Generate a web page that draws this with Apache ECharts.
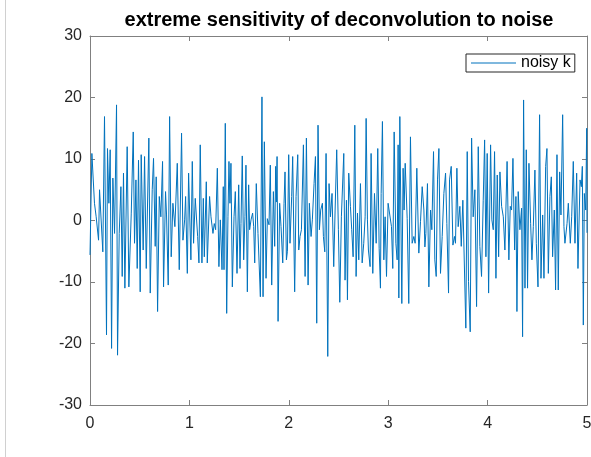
<!DOCTYPE html>
<html>
<head>
<meta charset="utf-8">
<script src="https://cdn.jsdelivr.net/npm/echarts@6/dist/echarts.min.js"></script>
<style>
  html, body { margin: 0; padding: 0; background: #fff; }
  #chart { width: 591px; height: 457px; }
</style>
</head>
<body>
<div id="chart"></div>
<script>
// time axis (s) and noisy kernel values
const times = [
  0.000, 0.019, 0.045, 0.062, 0.086, 0.096, 0.129, 0.146, 0.166, 0.176,
  0.190, 0.203, 0.217, 0.230, 0.247, 0.267, 0.277, 0.294, 0.311, 0.324,
  0.337, 0.351, 0.374, 0.391, 0.415, 0.435, 0.448, 0.462, 0.475, 0.488,
  0.505, 0.515, 0.535, 0.549, 0.566, 0.592, 0.606, 0.626, 0.639, 0.656,
  0.666, 0.680, 0.697, 0.713, 0.730, 0.740, 0.760, 0.770, 0.787, 0.801,
  0.817, 0.834, 0.854, 0.878, 0.898, 0.921, 0.935, 0.952, 0.962, 0.979,
  0.992, 1.015, 1.029, 1.042, 1.059, 1.083, 1.096, 1.109, 1.126, 1.140,
  1.150, 1.170, 1.180, 1.203, 1.217, 1.237, 1.250, 1.264, 1.281, 1.297,
  1.311, 1.328, 1.341, 1.348, 1.361, 1.375, 1.388, 1.398, 1.408, 1.418,
  1.432, 1.449, 1.462, 1.479, 1.496, 1.509, 1.519, 1.532, 1.546, 1.559,
  1.569, 1.583, 1.596, 1.606, 1.620, 1.636, 1.647, 1.657, 1.673, 1.690,
  1.714, 1.730, 1.741, 1.754, 1.771, 1.784, 1.801, 1.814, 1.828, 1.845,
  1.858, 1.868, 1.875, 1.882, 1.892, 1.908, 1.922, 1.939, 1.952, 1.962,
  1.976, 1.986, 1.999, 2.012, 2.029, 2.039, 2.059, 2.073, 2.090, 2.100,
  2.113, 2.127, 2.147, 2.164, 2.177, 2.194, 2.207, 2.224, 2.237, 2.254,
  2.268, 2.281, 2.294, 2.308, 2.321, 2.338, 2.348, 2.362, 2.375, 2.392,
  2.405, 2.419, 2.435, 2.452, 2.466, 2.482, 2.499, 2.513, 2.529, 2.553,
  2.566, 2.580, 2.590, 2.603, 2.620, 2.633, 2.647, 2.664, 2.677, 2.691,
  2.704, 2.721, 2.738, 2.754, 2.768, 2.778, 2.791, 2.801, 2.818, 2.828,
  2.845, 2.862, 2.879, 2.895, 2.909, 2.922, 2.929, 2.942, 2.956, 2.969,
  2.983, 2.999, 3.016, 3.033, 3.046, 3.060, 3.077, 3.090, 3.100, 3.107,
  3.117, 3.137, 3.150, 3.160, 3.171, 3.191, 3.207, 3.224, 3.241, 3.258,
  3.271, 3.288, 3.308, 3.325, 3.342, 3.359, 3.369, 3.379, 3.395, 3.409,
  3.426, 3.439, 3.456, 3.469, 3.483, 3.496, 3.510, 3.526, 3.543, 3.560,
  3.577, 3.590, 3.607, 3.617, 3.634, 3.651, 3.667, 3.677, 3.691, 3.704,
  3.721, 3.735, 3.751, 3.765, 3.781, 3.795, 3.808, 3.825, 3.839, 3.855,
  3.872, 3.889, 3.906, 3.922, 3.939, 3.956, 3.970, 3.983, 3.996, 4.010,
  4.030, 4.043, 4.057, 4.070, 4.084, 4.097, 4.111, 4.124, 4.141, 4.158,
  4.174, 4.196, 4.214, 4.228, 4.241, 4.255, 4.272, 4.285, 4.295, 4.308,
  4.325, 4.342, 4.352, 4.362, 4.376, 4.389, 4.402, 4.416, 4.433, 4.446,
  4.460, 4.476, 4.490, 4.507, 4.523, 4.537, 4.554, 4.567, 4.584, 4.597,
  4.611, 4.627, 4.641, 4.654, 4.671, 4.684, 4.698, 4.711, 4.725, 4.738,
  4.755, 4.768, 4.778, 4.799, 4.812, 4.832, 4.846, 4.862, 4.879, 4.896,
  4.909, 4.930, 4.943, 4.953, 4.963, 4.973, 4.987, 4.997, 5.000
];
const noisyK = [
  -5.6, 10.9, 2.8, 0.6, -3.2, 5.0, -5.1, 16.9, -18.6, 11.7,
  2.8, 11.5, -20.8, 6.9, -2.1, 18.8, -21.9, -2.1, 5.5, -9.1,
  7.7, -11.0, 12.0, -10.8, 1.2, 14.4, -3.7, 6.6, -7.8, 9.8,
  -11.6, 10.7, -4.8, 10.4, -7.8, 13.4, -11.8, 5.0, 10.1, -4.2,
  7.1, -14.8, 3.9, 0.6, 9.6, -10.8, 4.7, 0.9, -10.5, 16.9,
  -5.9, 2.8, -1.0, 9.3, -8.0, 14.2, -3.2, 0.1, 3.9, -8.6,
  7.7, -6.4, 9.6, -3.7, 3.6, -2.6, -6.9, 12.3, -6.9, 3.6,
  -5.9, 6.3, -6.9, 3.9, 0.6, -2.1, -0.5, -1.5, 8.5, -7.5,
  0.1, -8.0, 5.5, -8.0, 15.8, -15.1, 0.6, 9.6, 2.8, 9.3,
  -10.8, 0.6, 4.7, -8.6, 5.8, -7.8, -0.5, 10.5, -6.4, 0.6,
  9.0, -11.6, 5.8, -1.5, 0.1, 1.2, -1.0, -6.9, 6.0, -2.1,
  -12.4, 20.1, -12.4, 12.8, -9.4, 0.3, -0.7, 9.0, -10.5, 4.7,
  -4.2, 8.8, 3.0, 10.4, -16.4, 2.8, -1.0, -6.9, 2.8, 7.9,
  -6.4, -5.0, 10.7, -3.7, 3.9, 10.4, -11.6, 3.9, 10.7, -4.8,
  -2.6, -1.5, 12.3, -9.1, 13.4, -10.5, 2.8, -2.6, 0.1, 6.0,
  10.4, -16.7, 15.5, -1.5, 1.7, 2.8, -2.6, -5.1, 10.9, -22.1,
  6.0, 0.6, 4.4, -7.5, 1.7, 11.5, -1.5, -13.3, 0.6, 10.9,
  -9.7, 3.3, -12.9, 7.7, 2.3, -1.5, -5.9, 15.5, -9.1, 1.2,
  -6.4, 6.0, -6.9, -3.7, 0.6, 16.6, 0.1, -4.8, -7.5, 10.9,
  -8.6, 4.4, -3.7, 11.7, -4.5, -11.0, 4.4, 16.1, -6.4, 0.6,
  -9.1, 2.8, 2.5, -1.0, -7.8, 14.4, -3.7, -6.4, 12.3, -12.6,
  16.9, -13.5, 8.5, 1.7, 9.3, 0.3, -13.5, 13.6, -3.7, -2.6,
  -3.7, 8.5, -5.3, -0.2, 5.5, 1.7, -4.3, -2.1, 6.0, -10.8,
  1.7, -1.5, 11.2, -6.4, -9.1, 6.6, 11.7, -8.6, -2.6, 4.4,
  7.7, -0.5, -11.8, 6.6, 8.8, -4.0, -2.6, -3.7, 8.5, -1.0,
  2.3, -4.2, 3.3, 3.6, -17.5, 11.2, -9.9, -18.1, 13.4, 0.6,
  5.0, -14.0, 12.0, -4.2, -9.1, 3.3, 13.1, -5.9, 10.9, -11.8,
  12.3, 0.1, -1.5, 11.2, -9.4, 7.4, -5.9, 7.9, 2.3, 0.6,
  -4.8, 9.6, -6.4, 2.3, 1.7, 10.1, -4.8, 3.9, -14.8, 4.7,
  -1.5, 2.0, -18.9, 19.6, -11.0, 11.5, -11.0, 9.3, -0.5, -6.4,
  -1.0, 8.2, -3.7, -10.8, 17.2, -9.4, 0.9, -9.4, 8.8, 11.7,
  -8.6, 3.9, 7.1, -5.9, 1.7, -11.3, 10.7, -11.3, 7.9, 0.9,
  17.2, -1.0, -3.7, -0.5, 2.8, -3.7, 0.6, 9.6, -3.7, 7.7,
  -7.8, 6.6, 5.5, 8.8, -17.0, 4.4, 1.7, 15.0, -2.0
];
const xTicks = [0, 1, 2, 3, 4, 5];
const yTicks = [-30, -20, -10, 0, 10, 20, 30];

const axisColor = '#808080';
const labelColor = '#262626';
const font = 'Liberation Sans, Arial, sans-serif';

const chart = echarts.init(document.getElementById('chart'));

function axisBase(ticks, pos, labels) {
  return {
    type: 'value',
    position: pos,
    min: ticks[0],
    max: ticks[ticks.length - 1],
    interval: ticks[1] - ticks[0],
    axisLine: { show: true, onZero: false, lineStyle: { color: axisColor, width: 1 } },
    axisTick: { show: true, inside: true, length: 5, lineStyle: { color: axisColor } },
    splitLine: { show: false },
    axisLabel: {
      show: labels,
      color: labelColor,
      fontSize: 16,
      fontFamily: font,
      margin: pos === 'bottom' ? 11 : 8
    }
  };
}

chart.setOption({
  animation: false,
  backgroundColor: '#fff',
  title: {
    text: 'extreme sensitivity of deconvolution to noise',
    left: 339,
    textAlign: 'center',
    top: 10,
    padding: 0,
    textStyle: { fontSize: 20, fontWeight: 'bold', color: '#000', fontFamily: font }
  },
  legend: {
    data: ['noisy k'],
    left: 466,
    top: 54,
    padding: [1, 4, 1, 5],
    itemWidth: 45,
    itemHeight: 1,
    itemGap: 3,
    icon: 'rect',
    borderColor: '#262626',
    borderWidth: 1,
    backgroundColor: '#fff',
    textStyle: { fontSize: 16, color: '#000', fontFamily: font, lineHeight: 15, padding: 0 }
  },
  grid: { left: 90, right: 4, top: 36, bottom: 52, containLabel: false, outerBoundsMode: 'none' },
  xAxis: [axisBase(xTicks, 'bottom', true), axisBase(xTicks, 'top', false)],
  yAxis: [axisBase(yTicks, 'left', true), axisBase(yTicks, 'right', false)],
  graphic: [{
    type: 'line',
    shape: { x1: 5.5, y1: 0, x2: 5.5, y2: 457 },
    style: { stroke: '#d0d0d0', lineWidth: 1 }
  }],
  series: [{
    name: 'noisy k',
    type: 'line',
    xAxisIndex: 0,
    yAxisIndex: 0,
    showSymbol: false,
    symbol: 'none',
    color: '#0072BD',
    lineStyle: { width: 1, color: '#0072BD' },
    data: times.map((t, i) => [t, noisyK[i]])
  }]
});
</script>
</body>
</html>
